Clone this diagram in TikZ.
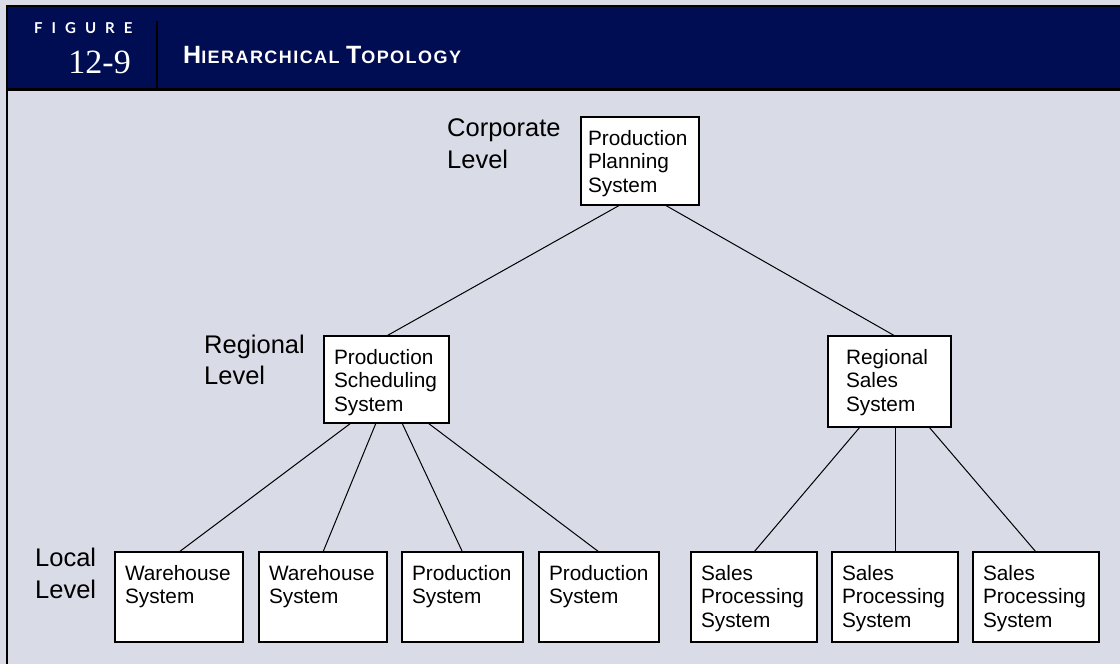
\documentclass[tikz,border=0pt]{standalone}
\usepackage{fontspec}
\setmainfont{Liberation Sans}
\newfontfamily\figfont[LetterSpace=60]{Lato}
\newfontfamily\numfont{Liberation Serif}
\newfontfamily\titlefont[LetterSpace=8]{Liberation Sans}
\usetikzlibrary{positioning}
\definecolor{Navy}{HTML}{000D52}
\definecolor{Panel}{HTML}{D9DCE6}
\newcommand\sysfont{\fontsize{20.8}{23.5}\selectfont}
\newcommand\lvlfont{\fontsize{25.5}{31.5}\selectfont}
\newcommand\tbig[1]{{\fontsize{25}{25}\selectfont #1}}
\newcommand\tsmall[1]{{\fontsize{18}{18}\selectfont #1}}

\begin{document}
\begin{tikzpicture}[x=1pt,y=-1pt,
  sysbox/.style={draw,fill=white,line width=1.2pt,anchor=north west,align=left,
    inner xsep=10pt,inner ysep=0pt,outer sep=0pt,text height=28pt,font=\sysfont},
  lvl/.style={anchor=north west,align=left,inner sep=0pt,font=\lvlfont},
  link/.style={line width=1pt}]
  \useasboundingbox (0,0) rectangle (1120,664);
  \fill[Panel] (0,0) rectangle (1120,664);
  % header bar
  \fill[Navy] (7,6) rectangle (1120,90);
  \draw[line width=2.5pt] (1120,6) -- (7,6) -- (7,664);
  \draw[line width=3pt] (7,89.5) -- (1120,89.5);
  \draw[line width=2.5pt] (157,21) -- (157,89.5);
  \node[anchor=base west,inner sep=0pt,text=white,font={\figfont\bfseries\fontsize{15}{15}\selectfont}] (fig) at (34,33) {FIGURE};
  \node[anchor=base east,inner sep=0pt,text=white,font={\numfont\fontsize{34}{34}\selectfont}] (num) at (131,73) {12-9};
  \node[anchor=base west,inner sep=0pt,text=white,font={\titlefont\bfseries}] (title) at (183,63.5)
    {\tbig{H}\tsmall{IERARCHICAL }\tbig{T}\tsmall{OPOLOGY}};
  % levels
  \node[lvl] (corp) at (447,118.5) {Corporate\\Level};
  \node[lvl] (reg) at (204,334.5) {Regional\\Level};
  \node[lvl] (loc) at (35,548) {Local\\Level};
  % systems
  \node[sysbox,text width=104pt,text depth=60pt,inner xsep=7pt] (plan) at (581,117) {Production\\Planning\\System};
  \node[sysbox,text width=105pt,text depth=59pt] (sched) at (324,336) {Production\\Scheduling\\System};
  \node[sysbox,text width=87pt,text depth=63pt,inner xsep=18pt] (rsales) at (828,336) {Regional\\Sales\\System};
  \node[sysbox,text width=108pt,text depth=62pt] (wh1) at (115,552) {Warehouse\\System};
  \node[sysbox,text width=108pt,text depth=62pt,right=16pt of wh1] (wh2) {Warehouse\\System};
  \node[sysbox,text width=101pt,text depth=62pt,right=15pt of wh2] (pr1) {Production\\System};
  \node[sysbox,text width=100pt,text depth=62pt,right=16pt of pr1] (pr2) {Production\\System};
  \node[sysbox,text width=106pt,text depth=62pt,right=32pt of pr2] (sp1) {Sales\\Processing\\System};
  \node[sysbox,text width=106pt,text depth=62pt,right=15pt of sp1] (sp2) {Sales\\Processing\\System};
  \node[sysbox,text width=106pt,text depth=62pt,right=15pt of sp2] (sp3) {Sales\\Processing\\System};
  % links
  \draw[link] ([xshift=39pt]plan.south west) -- (sched.north);
  \draw[link] ([xshift=84pt]plan.south west) -- ([xshift=67pt]rsales.north west);
  \draw[link] ([xshift=27pt]sched.south west) -- (wh1.north);
  \draw[link] ([xshift=52pt]sched.south west) -- (wh2.north);
  \draw[link] ([xshift=78pt]sched.south west) -- (pr1.north);
  \draw[link] ([xshift=104pt]sched.south west) -- (pr2.north);
  \draw[link] ([xshift=32pt]rsales.south west) -- (sp1.north);
  \draw[link] ([xshift=67pt]rsales.south west) -- (sp2.north);
  \draw[link] ([xshift=101pt]rsales.south west) -- (sp3.north);
\end{tikzpicture}
\end{document}
